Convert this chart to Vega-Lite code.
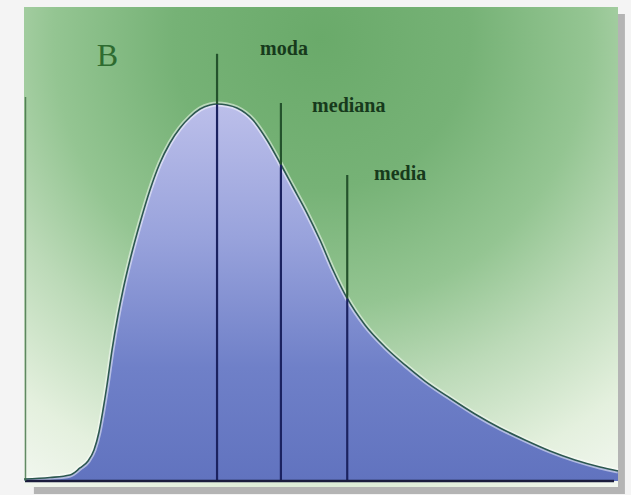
{
  "$schema": "https://vega.github.io/schema/vega-lite/v6.json",
  "width": 594,
  "height": 480,
  "autosize": "none",
  "padding": {"left": 24, "top": 7, "right": 13, "bottom": 8},
  "background": "#f4f4f4",
  "config": {"view": {"stroke": null}},
  "data": {"values": [{}]},
  "datasets": {
    "curve": [
      {"x": 0.0, "y": 0.42},
      {"x": 0.525, "y": 0.73},
      {"x": 0.929, "y": 1.25},
      {"x": 1.131, "y": 2.71},
      {"x": 1.293, "y": 4.17},
      {"x": 1.414, "y": 6.46},
      {"x": 1.515, "y": 10.21},
      {"x": 1.596, "y": 14.79},
      {"x": 1.677, "y": 20.0},
      {"x": 1.778, "y": 27.29},
      {"x": 1.899, "y": 34.58},
      {"x": 2.0, "y": 39.79},
      {"x": 2.141, "y": 46.04},
      {"x": 2.343, "y": 53.75},
      {"x": 2.545, "y": 60.63},
      {"x": 2.747, "y": 66.25},
      {"x": 2.949, "y": 70.42},
      {"x": 3.152, "y": 73.54},
      {"x": 3.354, "y": 75.83},
      {"x": 3.556, "y": 77.5},
      {"x": 3.758, "y": 78.33},
      {"x": 3.9, "y": 78.54},
      {"x": 4.101, "y": 78.33},
      {"x": 4.303, "y": 77.71},
      {"x": 4.626, "y": 75.21},
      {"x": 4.909, "y": 71.04},
      {"x": 5.172, "y": 66.25},
      {"x": 5.434, "y": 61.25},
      {"x": 5.717, "y": 55.83},
      {"x": 5.98, "y": 50.21},
      {"x": 6.242, "y": 43.96},
      {"x": 6.525, "y": 38.13},
      {"x": 6.889, "y": 32.5},
      {"x": 7.293, "y": 27.92},
      {"x": 7.697, "y": 24.17},
      {"x": 8.101, "y": 20.83},
      {"x": 8.606, "y": 17.29},
      {"x": 9.111, "y": 13.96},
      {"x": 9.616, "y": 11.04},
      {"x": 10.121, "y": 8.54},
      {"x": 10.626, "y": 6.25},
      {"x": 11.131, "y": 4.38},
      {"x": 11.636, "y": 2.92},
      {"x": 12.0, "y": 2.08}
    ],
    "stats": [
      {"stat": "moda", "x": 3.9, "top": 89.0, "cross": 78.5, "lx": 4.77, "ly": 88.75},
      {"stat": "mediana", "x": 5.19, "top": 78.75, "cross": 65.9, "lx": 5.82, "ly": 76.9},
      {"stat": "media", "x": 6.53, "top": 63.75, "cross": 38.0, "lx": 7.07, "ly": 62.7}
    ]
  },
  "layer": [
    {
      "mark": {"type": "rect", "fill": "#b4b4b4", "clip": false},
      "encoding": {
        "x": {"datum": 0.2, "type": "quantitative", "scale": {"domain": [0, 12], "nice": false, "zero": false}, "axis": null},
        "x2": {"datum": 12.14},
        "y": {"datum": -2.7, "type": "quantitative", "scale": {"domain": [-1.25, 98.75], "nice": false, "zero": false}, "axis": null},
        "y2": {"datum": 97.3}
      }
    },
    {
      "mark": {
        "type": "rect",
        "clip": false,
        "fill": {
          "gradient": "radial",
          "x1": 0.5, "y1": 0.15, "r1": 0,
          "x2": 0.5, "y2": 0.15, "r2": 1.0,
          "stops": [
            {"offset": 0, "color": "#6aaa6a"},
            {"offset": 0.25, "color": "#76b276"},
            {"offset": 0.45, "color": "#94c592"},
            {"offset": 0.6, "color": "#bcdab8"},
            {"offset": 0.78, "color": "#e4f0de"},
            {"offset": 0.92, "color": "#f4f8f2"},
            {"offset": 1, "color": "#f8faf8"}
          ]
        }
      },
      "encoding": {
        "x": {"datum": 0, "type": "quantitative"},
        "x2": {"datum": 12},
        "y": {"datum": -1.25, "type": "quantitative"},
        "y2": {"datum": 98.75}
      }
    },
    {
      "data": {"name": "curve"},
      "mark": {
        "type": "area",
        "interpolate": "monotone",
        "fill": {
          "gradient": "linear",
          "x1": 0, "y1": 0, "x2": 0, "y2": 1,
          "stops": [
            {"offset": 0, "color": "#bcbfea"},
            {"offset": 0.35, "color": "#99a3dc"},
            {"offset": 0.7, "color": "#6f80c8"},
            {"offset": 1, "color": "#6173bf"}
          ]
        }
      },
      "encoding": {
        "x": {"field": "x", "type": "quantitative"},
        "y": {"field": "y", "type": "quantitative"}
      }
    },
    {
      "data": {"name": "curve"},
      "mark": {"type": "line", "interpolate": "monotone", "stroke": "#ffffff", "strokeWidth": 5, "opacity": 0.5},
      "encoding": {
        "x": {"field": "x", "type": "quantitative"},
        "y": {"field": "y", "type": "quantitative"}
      }
    },
    {
      "data": {"name": "curve"},
      "mark": {"type": "line", "interpolate": "monotone", "stroke": "#2c5850", "strokeWidth": 1.6},
      "encoding": {
        "x": {"field": "x", "type": "quantitative"},
        "y": {"field": "y", "type": "quantitative"}
      }
    },
    {
      "data": {"name": "stats"},
      "mark": {"type": "rule", "stroke": "#24522c", "strokeWidth": 2.2},
      "encoding": {
        "x": {"field": "x", "type": "quantitative"},
        "y": {"field": "top", "type": "quantitative"},
        "y2": {"field": "cross"}
      }
    },
    {
      "data": {"name": "stats"},
      "mark": {"type": "rule", "stroke": "#1b2260", "strokeWidth": 2.2},
      "encoding": {
        "x": {"field": "x", "type": "quantitative"},
        "y": {"field": "cross", "type": "quantitative"},
        "y2": {"datum": 0}
      }
    },
    {
      "mark": {"type": "rule", "stroke": "#1a1c3c", "strokeWidth": 2.5},
      "encoding": {
        "x": {"datum": 0.02, "type": "quantitative"},
        "x2": {"datum": 11.92},
        "y": {"datum": 0, "type": "quantitative"}
      }
    },
    {
      "mark": {"type": "rule", "stroke": "#3e6e42", "strokeWidth": 1.5, "opacity": 0.8},
      "encoding": {
        "x": {"datum": 0.03, "type": "quantitative"},
        "y": {"datum": 0, "type": "quantitative"},
        "y2": {"datum": 80}
      }
    },
    {
      "data": {"name": "stats"},
      "mark": {"type": "text", "align": "left", "baseline": "alphabetic", "font": "Liberation Serif", "fontSize": 20, "fontWeight": "bold", "fill": "#173a1c"},
      "encoding": {
        "x": {"field": "lx", "type": "quantitative"},
        "y": {"field": "ly", "type": "quantitative"},
        "text": {"field": "stat"}
      }
    },
    {
      "mark": {"type": "text", "align": "left", "baseline": "alphabetic", "font": "Liberation Serif", "fontSize": 32, "fill": "#2e6b30"},
      "encoding": {
        "x": {"datum": 1.47, "type": "quantitative"},
        "y": {"datum": 86.5, "type": "quantitative"},
        "text": {"value": "B"}
      }
    }
  ]
}
